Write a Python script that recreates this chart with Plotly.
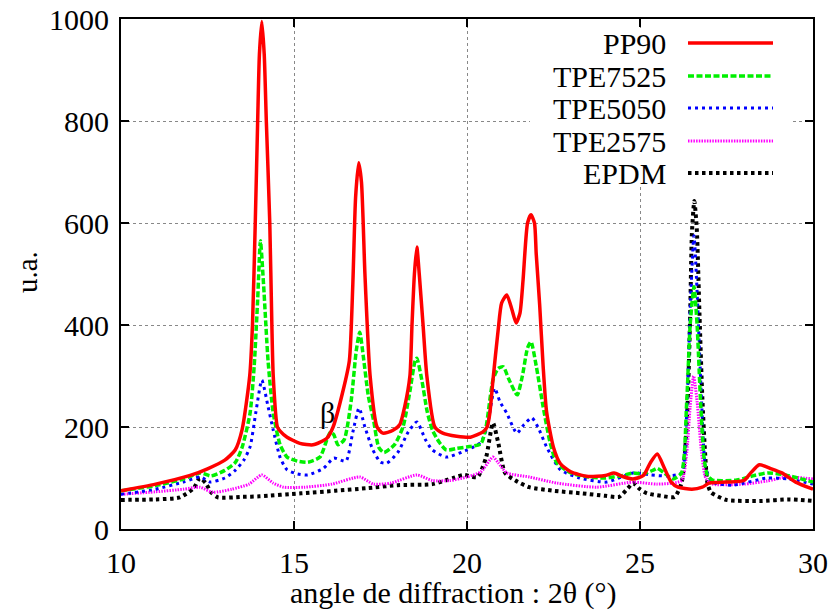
import plotly.graph_objects as go

# ---------------- data ----------------
series_names = ["PP90", "TPE7525", "TPE5050", "TPE2575", "EPDM"]

pp90_x = [10, 11, 12, 12.5, 13.0, 13.3, 13.5, 13.72, 13.8, 13.88, 13.95, 14.0, 14.07, 14.14, 14.2, 14.3, 14.36, 14.4,
          14.52, 14.6, 14.8, 15.17, 15.55, 15.95, 16.13, 16.42, 16.6, 16.7, 16.78, 16.87, 16.95, 17.05,
          17.2, 17.4, 17.57, 17.85, 18.06, 18.2, 18.35, 18.41, 18.48, 18.55, 18.62, 18.73, 18.84, 19.07, 19.3, 19.7,
          20.1, 20.45, 20.58, 20.66, 20.75, 20.9, 21.0, 21.15, 21.3, 21.42, 21.53, 21.62, 21.75, 21.85, 21.95, 22.0,
          22.1, 22.2, 22.3, 22.5, 22.7, 23.0, 23.5, 24.0, 24.25, 24.5, 24.8, 25.1, 25.3, 25.5, 25.7, 25.9, 26.1,
          26.5, 26.8, 27.0, 27.5, 28.0, 28.2, 28.45, 28.8, 29.1, 29.5, 30]
pp90_y = [75, 88, 105, 118, 135, 155, 195, 300, 400, 600, 800, 930, 995, 930, 800, 600, 400, 300,
          200, 192, 180, 168, 165, 178, 200, 272, 330, 480, 650, 718, 680, 500,
          300, 200, 188, 193, 205, 240, 300, 400, 500, 553, 500, 400, 300, 200, 188, 182,
          180, 190, 200, 227, 292, 390, 443, 459, 430, 404, 423, 488, 600, 616, 600, 540,
          440, 320, 230, 160, 128, 112, 103, 105, 110, 103, 98, 105, 130, 147, 120, 92, 82,
          78, 82, 90, 92, 95, 110, 126, 118, 110, 92, 78]

tpe7525_x = [10, 11, 11.8, 12.3, 12.6, 13.0, 13.3, 13.5, 13.73, 13.85, 13.95, 14.03, 14.12, 14.25, 14.4, 14.6, 14.8,
             15.1, 15.4, 15.75, 15.95, 16.05, 16.15, 16.27, 16.45, 16.65, 16.8, 16.9, 17.0, 17.15, 17.3, 17.45,
             17.6, 17.9, 18.15, 18.35, 18.5, 18.55, 18.7, 18.85, 19.0, 19.2, 19.4, 19.7, 20.0, 20.4, 20.55, 20.75,
             20.9, 21.05, 21.2, 21.45, 21.6, 21.75, 21.85, 22.0, 22.2, 22.4, 22.6, 23.0, 23.5, 24.0, 24.5, 24.8,
             25.1, 25.4, 25.5, 25.7, 25.95, 26.2, 26.35, 26.45, 26.56, 26.65, 26.75, 26.85, 26.95, 27.1, 27.8,
             28.3, 28.7, 29.2, 30]
tpe7525_y = [75, 85, 98, 110, 104, 115, 130, 160, 227, 320, 450, 565, 480, 330, 227, 165, 141,
             133, 131, 141, 175, 190, 185, 165, 175, 250, 350, 386, 340, 260, 213, 160,
             150, 165, 200, 270, 330, 335, 290, 230, 194, 170, 155, 158, 161, 167, 200, 292,
             315, 318, 295, 263, 300, 355, 367, 320, 240, 170, 129, 110, 102, 100, 105, 110,
             108, 116, 119, 110, 98, 110, 250, 400, 475, 400, 250, 140, 105, 96, 96,
             105, 110, 106, 92]

tpe5050_x = [10, 11, 11.8, 12.3, 12.57, 13.0, 13.3, 13.55, 13.73, 13.9, 14.07, 14.25, 14.4, 14.6, 14.8, 15.1, 15.4,
             15.85, 16.15, 16.5, 16.7, 16.88, 17.05, 17.28, 17.5, 17.68, 18.0, 18.3, 18.55, 18.8, 19.0, 19.4,
             20.0, 20.4, 20.58, 20.8, 20.95, 21.15, 21.44, 21.65, 21.87, 22.05, 22.3, 22.7, 23.26, 24.04, 24.8,
             25.3, 25.8, 26.2, 26.35, 26.45, 26.56, 26.66, 26.78, 26.9, 27.1, 27.7, 28.67, 29.3, 30]
tpe5050_y = [68, 78, 92, 102, 92, 100, 115, 135, 161, 230, 292, 240, 194, 140, 116, 108, 106,
             119, 139, 133, 190, 237, 200, 155, 131, 129, 150, 190, 210, 175, 155, 141,
             155, 170, 200, 276, 250, 227, 188, 205, 218, 200, 161, 116, 100, 92, 110,
             106, 104, 110, 230, 430, 575, 450, 250, 120, 92, 86, 100, 98, 88]

tpe2575_x = [10, 11, 11.8, 12.28, 12.65, 13.2, 13.7, 14.07, 14.4, 14.7, 15.3, 16.1, 16.9, 17.3, 17.8, 18.55, 19.0,
             19.5, 20.0, 20.4, 20.75, 20.9, 21.15, 21.8, 22.6, 23.75, 24.8, 25.5, 26.2, 26.35, 26.45, 26.55,
             26.65, 26.78, 26.9, 27.1, 28.0, 28.67, 29.25, 30]
tpe2575_y = [68, 73, 78, 82, 72, 78, 88, 106, 90, 82, 82, 88, 102, 88, 90, 106, 95,
             95, 102, 112, 141, 130, 110, 102, 90, 82, 92, 88, 95, 150, 240, 300,
             250, 150, 100, 88, 88, 94, 102, 98]

epdm_x = [10, 11, 11.7, 12.1, 12.28, 12.45, 12.6, 12.8, 13.5, 14.0, 15.2, 16.2, 17.1, 18.0, 19.0, 19.6, 19.9, 20.3,
          20.55, 20.75, 20.9, 21.1, 21.4, 21.8, 22.5, 23.3, 24.0, 24.4, 24.65, 24.8, 25.0, 25.2, 25.6, 26.0, 26.2,
          26.3, 26.38, 26.45, 26.5, 26.57, 26.64, 26.72, 26.8, 26.88, 26.95, 27.05, 27.5, 28.5, 29.3, 30]
epdm_y = [57, 58, 62, 80, 100, 90, 72, 62, 63, 64, 70, 75, 80, 86, 88, 100, 106, 102,
          140, 208, 170, 110, 95, 82, 75, 70, 65, 63, 80, 90, 78, 70, 65, 63, 90,
          150, 250, 420, 580, 643, 590, 420, 260, 150, 90, 72, 57, 55, 58, 55]

x_ticks = [10, 15, 20, 25, 30]
y_ticks = [0, 200, 400, 600, 800, 1000]
x_title = "angle de diffraction : 2θ (°)"
y_title = "u.a."
beta_label = "β"
beta_pos = (15.98, 229)

# ---------------- styles ----------------
FONT = "Liberation Serif"
styles = {
    "PP90": dict(color="#ff0000", dash="solid", width=3.5),
    "TPE7525": dict(color="#00f000", dash="6px,2.5px", width=3.5),
    "TPE5050": dict(color="#0000ff", dash="3px,4px", width=3),
    "TPE2575": dict(color="#ff00ff", dash="1.5px,1.2px", width=3),
    "EPDM": dict(color="#000000", dash="3.5px,3.5px", width=4),
}
data = {
    "PP90": (pp90_x, pp90_y),
    "TPE7525": (tpe7525_x, tpe7525_y),
    "TPE5050": (tpe5050_x, tpe5050_y),
    "TPE2575": (tpe2575_x, tpe2575_y),
    "EPDM": (epdm_x, epdm_y),
}

fig = go.Figure()
for name in reversed(series_names):
    xs, ys = data[name]
    fig.add_trace(go.Scatter(x=xs, y=ys, mode="lines", name=name, showlegend=False,
                             line=dict(shape="spline", smoothing=0.6, **styles[name])))

# plot area in page pixels: x 121..813, y 19..529 (page body has an 8px margin)
OFF = 8
L, R, T, B = 121, 813, 19, 529
W, H = R - L, B - T
def px(xp):
    return (xp - L) / W
def py(yp):
    return (B - yp) / H

shapes = []
annotations = []
# white legend background (covers grid lines)
shapes.append(dict(type="rect", xref="paper", yref="paper", x0=px(530), x1=px(792), y0=py(186), y1=py(29),
                   fillcolor="white", line=dict(width=0), layer="above"))
legend_y = [43, 76, 108, 141, 173]
for name, ly in zip(series_names, legend_y):
    st = styles[name]
    shapes.append(dict(type="line", xref="paper", yref="paper", x0=px(688), x1=px(773), y0=py(ly), y1=py(ly),
                       line=dict(color=st["color"], dash=st["dash"], width=st["width"]), layer="above"))
    annotations.append(dict(text=name, xref="paper", yref="paper", x=px(668), y=py(ly), xanchor="right",
                            yanchor="middle", showarrow=False, font=dict(family=FONT, size=30, color="black")))

annotations.append(dict(text=beta_label, x=beta_pos[0], y=beta_pos[1], xref="x", yref="y", showarrow=False,
                        xanchor="center", yanchor="middle", font=dict(family=FONT, size=30, color="black")))
annotations.append(dict(text=x_title, xref="paper", yref="paper", x=px(453), y=py(611), showarrow=False,
                        xanchor="center", yanchor="bottom", borderpad=0,
                        font=dict(family=FONT, size=30, color="black")))
annotations.append(dict(text=y_title, xref="paper", yref="paper", x=px(27), y=py(272), showarrow=False,
                        textangle=-90, xanchor="center", yanchor="middle",
                        font=dict(family=FONT, size=29, color="black")))

axis_common = dict(showline=True, linecolor="black", linewidth=2, mirror="ticks", ticks="inside",
                   ticklen=8, tickwidth=1.5, tickcolor="black", showgrid=True, gridcolor="#888888",
                   griddash="dot", gridwidth=1, zeroline=False, automargin=False,
                   ticklabeloverflow="allow",
                   tickfont=dict(family=FONT, size=30, color="black"))

fig.update_layout(
    width=836, height=612,
    margin=dict(l=L - OFF, r=836 - (R - OFF), t=T - OFF, b=612 - (B - OFF)),
    paper_bgcolor="white", plot_bgcolor="white",
    xaxis=dict(range=[10, 30], tickvals=x_ticks, ticklabelstandoff=6, **axis_common),
    yaxis=dict(range=[0, 1000], tickvals=y_ticks, ticklabelstandoff=4, **axis_common),
    shapes=shapes, annotations=annotations, showlegend=False,
)

fig.write_html("out.html")
